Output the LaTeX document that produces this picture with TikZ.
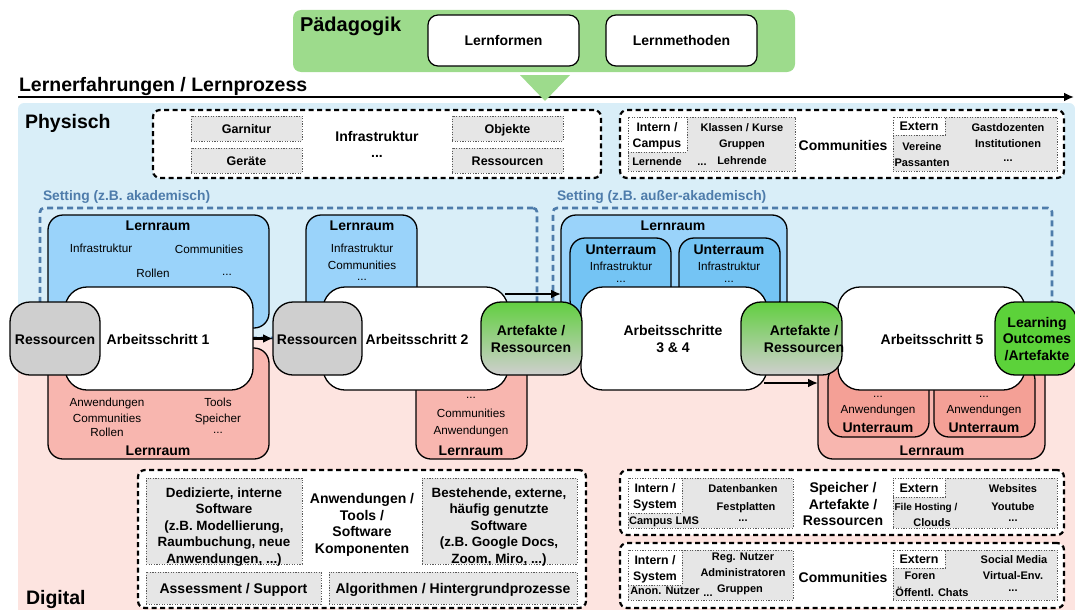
\documentclass[tikz,border=0pt]{standalone}
\usepackage{fontspec}
\setmainfont{Liberation Sans}
\usetikzlibrary{arrows.meta,fit,calc}

\definecolor{bgblue}{HTML}{D9EEF8}
\definecolor{bgpink}{HTML}{FDE4E0}
\definecolor{paedgreen}{HTML}{9DDB8C}
\definecolor{lrblue}{HTML}{9AD3FA}
\definecolor{urblue}{HTML}{74C4F4}
\definecolor{lrpink}{HTML}{F8B6AF}
\definecolor{urpink}{HTML}{F4A096}
\definecolor{resgray}{HTML}{CFCFCF}
\definecolor{artgreen}{HTML}{62CF40}
\definecolor{outgreen}{HTML}{5CD23A}
\definecolor{setblue}{HTML}{4E7CAB}
\definecolor{boxgray}{HTML}{E6E6E6}

\begin{document}
\begin{tikzpicture}[x=1pt, y=-1pt,
  every node/.style={inner sep=0pt, outer sep=0pt},
  % single-line text styles (text height fixed so that the centre sits on the caps)
  tsm/.style={font=\fontsize{11.7}{14}\selectfont, text height=8.4pt, text depth=0pt},
  tsb/.style={font=\fontsize{11}{13}\selectfont\bfseries, text height=7.9pt, text depth=0pt},
  tmb/.style={font=\fontsize{12.5}{15}\selectfont\bfseries, text height=9pt, text depth=0pt},
  tbig/.style={font=\fontsize{14}{16.5}\selectfont\bfseries, text height=10pt, text depth=0pt},
  tset/.style={font=\fontsize{13.8}{16}\selectfont\bfseries, text height=9.9pt, text depth=0pt, text=setblue},
  thuge/.style={font=\fontsize{19.5}{22}\selectfont\bfseries, text height=14pt, text depth=0pt},
  % multi-line text styles
  mbig/.style={font=\fontsize{14}{16.6}\selectfont\bfseries, align=center},
  mmb/.style={font=\fontsize{12.3}{16}\selectfont\bfseries, align=center},
  mded/.style={font=\fontsize{13.4}{16.5}\selectfont\bfseries, align=center},
  % boxes
  dashbox/.style={draw=black, line width=2.2pt, dash pattern=on 5pt off 3.5pt, rounded corners=7pt, fill=white},
  graybox/.style={draw=black!65, line width=0.9pt, dash pattern=on 1.2pt off 1.4pt, fill=boxgray},
  whitebox/.style={draw=black!65, line width=0.9pt, dash pattern=on 1.2pt off 1.4pt, fill=white},
  setbox/.style={draw=setblue, line width=2.6pt, dash pattern=on 6pt off 4pt, rounded corners=4pt},
  roombox/.style={draw=black, line width=1.3pt, rounded corners=15pt},
  stepbox/.style={draw=black, line width=1.3pt, rounded corners=22pt, fill=white},
  resbox/.style={draw=black, line width=1.3pt, rounded corners=20pt, fill=resgray},
  artbox/.style={draw=black, line width=1.3pt, rounded corners=20pt,
                 top color=artgreen, middle color=artgreen!45!resgray, bottom color=resgray},
  arr/.style={-{Latex[length=10pt,width=9pt]}, line width=2.2pt},
]
\useasboundingbox (0,0) rectangle (1075,610);

% ---------- physical / digital backgrounds ----------
\fill[bgblue, rounded corners=6pt] (18,103) rectangle (1075,345);
\fill[bgpink] (18,339) rectangle (1075,610);

% ---------- pedagogy ----------
\node[fill=paedgreen, rounded corners=8pt, fit={(293,10)(795,72)}] (paed) {};
\node[thuge, font=\fontsize{20}{22}\selectfont\bfseries, anchor=west] (paedlbl) at (300,25) {Pädagogik};
\node[draw=black, line width=1.2pt, rounded corners=10pt, fill=white, fit={(428,15)(579,66)}] (formen) {};
\node[tbig] (formenlbl) at (formen) {Lernformen};
\node[draw=black, line width=1.2pt, rounded corners=10pt, fill=white, fit={(606,15)(757,66)}] (methoden) {};
\node[tbig] (methodenlbl) at (methoden) {Lernmethoden};

% ---------- process axis ----------
\coordinate (axstart) at (18,97);
\coordinate (axend) at (1074,97);
\draw[arr, line width=2.5pt] (axstart) -- (axend);
\node[thuge, anchor=west] (axlbl) at (19,84) {Lernerfahrungen / Lernprozess};
\fill[paedgreen] (520,75) -- (570,75) -- (545,101) -- cycle;

\node[thuge, anchor=west] (phys) at (25,121) {Physisch};
\node[thuge, anchor=west] (dig) at (26,597) {Digital};

% ---------- physical infrastructure ----------
\node[dashbox, fit={(153,110)(601,178)}] (infra) {};
\node[graybox, fit={(191,116)(302,141)}] (garnitur) {};
\node[tmb] (garniturlbl) at (garnitur) {Garnitur};
\node[graybox, fit={(191,148)(302,173)}] (geraete) {};
\node[tmb] (geraetelbl) at (geraete) {Geräte};
\node[graybox, fit={(452,116)(563,141)}] (objekte) {};
\node[tmb] (objektelbl) at (objekte) {Objekte};
\node[graybox, fit={(452,148)(563,173)}] (ressinf) {};
\node[tmb] (ressinflbl) at (ressinf) {Ressourcen};
\node[tbig] (infralbl) at (377,136) {Infrastruktur};
\node[tbig] (infradots) at (377,152) {...};

% ---------- physical communities ----------
\node[dashbox, fit={(620,110)(1064,178)}] (commp) {};
\node[graybox, fit={(628,117)(795,171)}] (commpint) {};
\node[whitebox, fit={(628,117)(687,152)}] (campus) {};
\node[mmb] (campuslbl) at (657,136) {Intern /\\Campus};
\node[tsb] (klassen) at (742,128) {Klassen / Kurse};
\node[tsb] (gruppenp) at (742,144) {Gruppen};
\node[tsb] (lehrende) at (742,161) {Lehrende};
\node[tsb] (lernende) at (657,162) {Lernende};
\node[tsb] (commpdots) at (702,162) {...};
\node[tbig] (commplbl) at (843,145) {Communities};
\node[graybox, fit={(893,117)(1057,171)}] (commpext) {};
\node[whitebox, fit={(893,117)(945,135)}] (externp) {};
\node[tmb] (externplbl) at (externp) {Extern};
\node[tsb] (vereine) at (922,147) {Vereine};
\node[tsb] (passanten) at (922,163) {Passanten};
\node[tsb] (gast) at (1008,128) {Gastdozenten};
\node[tsb] (instit) at (1008,144) {Institutionen};
\node[tsb] (commpdots2) at (1008,158) {...};

% ---------- settings ----------
\node[setbox, fit={(40,208)(537,338)}] (set1) {};
\node[setbox, fit={(553,208)(1052,338)}] (set2) {};
\node[tset, anchor=west] (set1lbl) at (43,196) {Setting (z.B. akademisch)};
\node[tset, anchor=west] (set2lbl) at (557,196) {Setting (z.B. außer-akademisch)};

% ---------- learning spaces ----------
% step 1
\node[roombox, fill=lrblue, fit={(48,215)(269,328)}] (lr1t) {};
\node[tbig] (lr1tlbl) at (158,225) {Lernraum};
\node[tsm] (lr1ta) at (101,248) {Infrastruktur};
\node[tsm] (lr1tb) at (209,249) {Communities};
\node[tsm] (lr1tc) at (153,273) {Rollen};
\node[tsm] (lr1td) at (227,271) {...};
\node[roombox, fill=lrpink, fit={(48,348)(269,459)}] (lr1b) {};
\node[tsm] (lr1ba) at (107,402) {Anwendungen};
\node[tsm] (lr1bb) at (218,402) {Tools};
\node[tsm] (lr1bc) at (107,418) {Communities};
\node[tsm] (lr1bd) at (218,418) {Speicher};
\node[tsm] (lr1be) at (107,432) {Rollen};
\node[tsm] (lr1bf) at (218,429) {...};
\node[tbig] (lr1blbl) at (158,450) {Lernraum};

% step 2
\node[roombox, fill=lrblue, fit={(306,215)(417,320)}] (lr2t) {};
\node[tbig] (lr2tlbl) at (362,225) {Lernraum};
\node[tsm] (lr2ta) at (362,248) {Infrastruktur};
\node[tsm] (lr2tb) at (362,265) {Communities};
\node[tsm] (lr2tc) at (362,276) {...};
\node[roombox, fill=lrpink, fit={(416,360)(527,459)}] (lr2b) {};
\node[tsm] (lr2ba) at (471,394) {...};
\node[tsm] (lr2bb) at (471,413) {Communities};
\node[tsm] (lr2bc) at (471,430) {Anwendungen};
\node[tbig] (lr2blbl) at (471,450) {Lernraum};

% steps 3 & 4
\node[roombox, fill=lrblue, fit={(561,215)(787,320)}] (lr3) {};
\node[tbig] (lr3lbl) at (673,225) {Lernraum};
\node[roombox, fill=urblue, fit={(570,238)(671,315)}] (ur3a) {};
\node[tbig] (ur3albl) at (621,249) {Unterraum};
\node[tsm] (ur3aa) at (621,266) {Infrastruktur};
\node[tsm] (ur3ab) at (621,278) {...};
\node[roombox, fill=urblue, fit={(679,238)(780,315)}] (ur3b) {};
\node[tbig] (ur3blbl) at (729,249) {Unterraum};
\node[tsm] (ur3ba) at (729,266) {Infrastruktur};
\node[tsm] (ur3bb) at (729,278) {...};

% step 5
\node[roombox, fill=lrpink, fit={(818,360)(1045,459)}] (lr5) {};
\node[tbig] (lr5lbl) at (932,450) {Lernraum};
\node[roombox, fill=urpink, fit={(828,365)(929,437)}] (ur5a) {};
\node[tsm] (ur5aa) at (878,393) {...};
\node[tsm] (ur5ab) at (878,409) {Anwendungen};
\node[tbig] (ur5albl) at (878,427) {Unterraum};
\node[roombox, fill=urpink, fit={(934,365)(1035,437)}] (ur5b) {};
\node[tsm] (ur5ba) at (984,393) {...};
\node[tsm] (ur5bb) at (984,409) {Anwendungen};
\node[tbig] (ur5blbl) at (984,427) {Unterraum};

% ---------- work steps ----------
\node[stepbox, fit={(65,287)(253,390)}] (as1) {};
\node[tbig] (as1lbl) at (158,339) {Arbeitsschritt 1};
\node[stepbox, fit={(323,287)(508,390)}] (as2) {};
\node[tbig] (as2lbl) at (417,339) {Arbeitsschritt 2};
\node[stepbox, fit={(581,287)(767,390)}] (as34) {};
\node[mbig] (as34lbl) at (673,339) {Arbeitsschritte\\3 \& 4};
\node[stepbox, fit={(838,287)(1025,390)}] (as5) {};
\node[tbig] (as5lbl) at (932,339) {Arbeitsschritt 5};

% ---------- resources and artefacts ----------
\node[resbox, fit={(10,302)(100,375)}] (res1) {};
\node[tbig] (res1lbl) at (55,339) {Ressourcen};
\node[resbox, fit={(273,302)(362,375)}] (res2) {};
\node[tbig] (res2lbl) at (317,339) {Ressourcen};
\node[artbox, fit={(481,302)(582,375)}] (art1) {};
\node[mbig] (art1lbl) at (531,339) {Artefakte /\\Ressourcen};
\node[artbox, fit={(741,302)(842,375)}] (art2) {};
\node[mbig] (art2lbl) at (804,339) {Artefakte /\\Ressourcen};
\node[resbox, fill=outgreen, fit={(995,302)(1077,375)}] (outcome) {};
\node[mbig] (outcomelbl) at (1037,339) {Learning\\Outcomes\\/Artefakte};

% ---------- flow arrows ----------
\draw[arr] (as1.east) -- (res2.west);
\draw[arr] ($(as2.north east)+(-3,7)$) -- ($(lr3.west |- as2.north east)+(0,7)$);
\draw[arr] ($(as34.south east)+(-3,-7)$) -- ($(lr5.west |- as34.south east)+(0,-7)$);

% ---------- digital applications ----------
\node[dashbox, fit={(138,470)(586,608)}] (anw) {};
\node[graybox, fit={(146,478)(302,564)}] (dediz) {};
\node[mded] (dedizlbl) at (224,527) {Dedizierte, interne\\Software\\(z.B. Modellierung,\\Raumbuchung, neue\\Anwendungen, ...)};
\node[mbig] (anwlbl) at (362,525) {Anwendungen /\\Tools /\\Software\\Komponenten};
\node[graybox, fit={(422,478)(577,564)}] (bestehend) {};
\node[mded] (bestehendlbl) at (499,527) {Bestehende, externe,\\häufig genutzte\\Software\\(z.B. Google Docs,\\Zoom, Miro, ...)};
\node[graybox, fit={(146,572)(321,604)}] (assess) {};
\node[tbig] (assesslbl) at (assess) {Assessment / Support};
\node[graybox, fit={(329,572)(577,604)}] (algo) {};
\node[tbig] (algolbl) at (algo) {Algorithmen / Hintergrundprozesse};

% ---------- digital storage ----------
\node[dashbox, fit={(620,470)(1064,535)}] (spe) {};
\node[graybox, fit={(628,478)(793,528)}] (speint) {};
\node[whitebox, fit={(628,478)(682,513)}] (speintbox) {};
\node[mmb] (speintlbl) at (655,497) {Intern /\\System};
\node[tsb] (datenb) at (743,489) {Datenbanken};
\node[tsb] (festpl) at (746,507) {Festplatten};
\node[tsb] (spedots) at (743,518) {...};
\node[tsb] (campuslms) at (664,521) {Campus LMS};
\node[mbig] (spelbl) at (843,504) {Speicher /\\Artefakte /\\Ressourcen};
\node[graybox, fit={(893,478)(1057,528)}] (speext) {};
\node[whitebox, fit={(893,478)(945,497)}] (speextbox) {};
\node[tmb] (speextlbl) at (speextbox) {Extern};
\node[tsb, font=\fontsize{10}{12}\selectfont\bfseries, text height=7.2pt] (filehost) at (926,507) {File Hosting /};
\node[tsb] (clouds) at (932,523) {Clouds};
\node[tsb] (websites) at (1013,489) {Websites};
\node[tsb] (youtube) at (1013,507) {Youtube};
\node[tsb] (spedots2) at (1013,518) {...};

% ---------- digital communities ----------
\node[dashbox, fit={(620,543)(1064,608)}] (commd) {};
\node[graybox, fit={(628,550)(793,600)}] (commdint) {};
\node[whitebox, fit={(628,550)(682,585)}] (commdintbox) {};
\node[mmb] (commdintlbl) at (655,569) {Intern /\\System};
\node[tsb] (regnutzer) at (743,557) {Reg. Nutzer};
\node[tsb] (admins) at (743,573) {Administratoren};
\node[tsb] (gruppend) at (740,589) {Gruppen};
\node[tsb] (anon) at (665,591) {Anon. Nutzer};
\node[tsb] (commddots) at (708,593) {...};
\node[tbig] (commdlbl) at (843,577) {Communities};
\node[graybox, fit={(893,550)(1057,600)}] (commdext) {};
\node[whitebox, fit={(893,550)(945,568)}] (commdextbox) {};
\node[tmb] (commdextlbl) at (commdextbox) {Extern};
\node[tsb] (foren) at (920,576) {Foren};
\node[tsb] (chats) at (932,593) {Öffentl. Chats};
\node[tsb] (social) at (1014,560) {Social Media};
\node[tsb] (virtual) at (1013,576) {Virtual-Env.};
\node[tsb] (commddots2) at (1013,588) {...};
\end{tikzpicture}
\end{document}
